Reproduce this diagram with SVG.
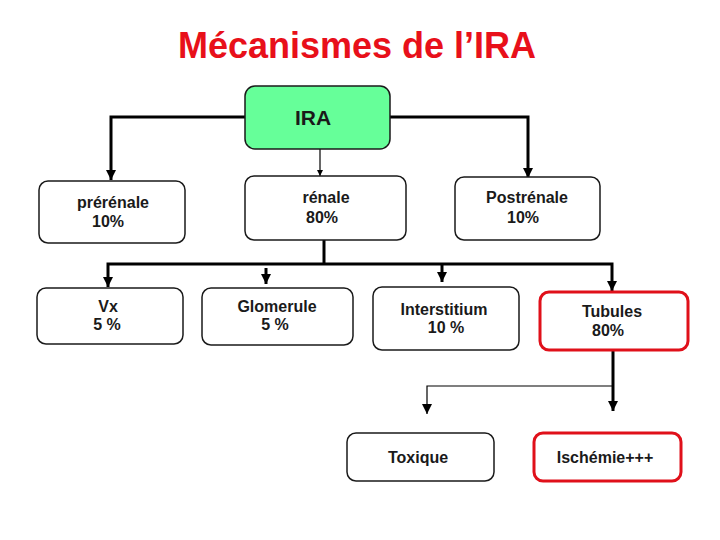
<svg xmlns="http://www.w3.org/2000/svg" width="720" height="540" viewBox="0 0 720 540">
<style>
.box{fill:#fff;stroke:#1a1a1a;stroke-width:1.5}
.red{fill:#fff;stroke:#e0101a;stroke-width:3}
.t{font-family:"Liberation Sans",Arial,sans-serif;font-weight:bold;font-size:16px;fill:#1a1a1a;text-anchor:middle}
.c{fill:none;stroke:#000;stroke-width:3}
.thin{fill:none;stroke:#000;stroke-width:1.2}
</style>
<defs>
<marker id="ah" markerUnits="userSpaceOnUse" markerWidth="10" markerHeight="10" refX="10" refY="5" orient="auto" viewBox="0 0 10 10">
<path d="M0,0 L10,5 L0,10 Z" fill="#000"/>
</marker>
<marker id="ahs" markerUnits="userSpaceOnUse" markerWidth="6" markerHeight="6" refX="10" refY="5" orient="auto" viewBox="0 0 10 10">
<path d="M0,0 L10,5 L0,10 Z" fill="#000"/>
</marker>
</defs>
<rect width="720" height="540" fill="#fff"/>
<text x="357" y="58" font-family="'Liberation Sans',Arial,sans-serif" font-weight="bold" font-size="36" fill="#e8101a" text-anchor="middle">Mécanismes de l’IRA</text>
<g id="connectors">
<path class="c" d="M245,117 H111 V180" marker-end="url(#ah)"/>
<path class="c" d="M390,117 H528 V178" marker-end="url(#ah)"/>
<path class="thin" d="M320,149 V176" marker-end="url(#ahs)"/>
<path class="c" d="M324,240 V264"/>
<path class="c" d="M324,264 H108 V287" marker-end="url(#ah)"/>
<path class="c" d="M324,264 H612 V291" marker-end="url(#ah)"/>
<path class="c" d="M266,268 V284" marker-end="url(#ah)"/>
<path class="c" d="M442,264 V282" marker-end="url(#ah)"/>
<path class="c" d="M613,350 V411" marker-end="url(#ah)"/>
<path class="thin" d="M612,386 H427 V414" stroke-width="1.5" marker-end="url(#ah)"/>
</g>
<g id="ira"><rect x="245" y="86" width="145" height="63" rx="10" fill="#66ff99" stroke="#1a1a1a" stroke-width="1.5"/><text class="t" x="313" y="125" style="font-size:21px">IRA</text></g>
<g id="prerenale"><rect class="box" x="39" y="181" width="146" height="62" rx="9"/><text class="t" x="113" y="208">prérénale</text><text class="t" x="108" y="227">10%</text></g>
<g id="renale"><rect class="box" x="245" y="176" width="161" height="64" rx="9"/><text class="t" x="326" y="203">rénale</text><text class="t" x="322" y="223">80%</text></g>
<g id="postrenale"><rect class="box" x="455" y="177" width="145" height="63" rx="9"/><text class="t" x="527" y="203">Postrénale</text><text class="t" x="523" y="223">10%</text></g>
<g id="vx"><rect class="box" x="37" y="288" width="146" height="56" rx="9"/><text class="t" x="108" y="312">Vx</text><text class="t" x="107" y="330">5 %</text></g>
<g id="glomerule"><rect class="box" x="202" y="288" width="151" height="57" rx="9"/><text class="t" x="277" y="312">Glomerule</text><text class="t" x="275" y="330">5 %</text></g>
<g id="interstitium"><rect class="box" x="373" y="287" width="146" height="63" rx="9"/><text class="t" x="444" y="315">Interstitium</text><text class="t" x="446" y="333">10 %</text></g>
<g id="tubules"><rect class="red" x="540" y="292" width="148" height="58" rx="9"/><text class="t" x="612" y="317">Tubules</text><text class="t" x="608" y="336">80%</text></g>
<g id="toxique"><rect class="box" x="347" y="433" width="147" height="48" rx="9"/><text class="t" x="418" y="463">Toxique</text></g>
<g id="ischemie"><rect class="red" x="534" y="433" width="147" height="48" rx="9"/><text class="t" x="605" y="463">Ischémie+++</text></g>
</svg>
